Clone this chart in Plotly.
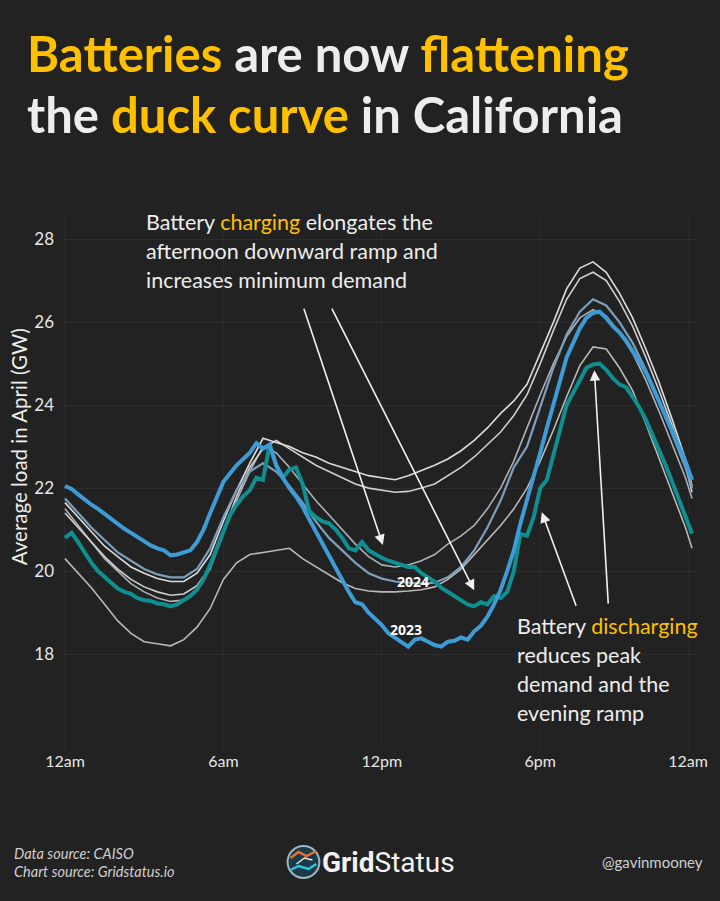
import plotly.graph_objects as go

# ---------------- data ----------------
hours15 = [i * 0.25 for i in range(96)]
hours30 = [i * 0.5 for i in range(48)] + [23.75]

load_2023 = [22.05, 21.98, 21.85, 21.72, 21.6, 21.5, 21.38, 21.25, 21.12, 21.02, 20.92, 20.82,
             20.72, 20.62, 20.55, 20.5, 20.38, 20.4, 20.45, 20.5, 20.7, 21.0, 21.4, 21.8,
             22.15, 22.35, 22.55, 22.7, 22.85, 23.08, 22.95, 23.05, 22.55, 22.25, 22.0, 21.8,
             21.55, 21.25, 20.95, 20.65, 20.35, 20.05, 19.75, 19.5, 19.25, 19.2, 19.0, 18.85,
             18.7, 18.5, 18.4, 18.3, 18.18, 18.35, 18.38, 18.3, 18.22, 18.18, 18.3, 18.32,
             18.4, 18.35, 18.55, 18.68, 18.9, 19.2, 19.55, 20.0, 20.5, 21.15, 21.7, 22.3,
             22.85, 23.45, 24.0, 24.6, 25.15, 25.5, 25.85, 26.1, 26.22, 26.25, 26.1, 25.9,
             25.75, 25.55, 25.3, 25.05, 24.8, 24.45, 24.1, 23.75, 23.4, 23.0, 22.65, 22.2]

load_2024 = [20.8, 20.92, 20.7, 20.45, 20.2, 20.0, 19.85, 19.72, 19.58, 19.5, 19.45, 19.35,
             19.3, 19.28, 19.22, 19.2, 19.15, 19.2, 19.3, 19.4, 19.55, 19.8, 20.15, 20.55,
             20.95, 21.35, 21.6, 21.8, 21.95, 22.25, 22.2, 23.05, 22.55, 22.25, 22.45, 22.5,
             22.1, 21.45, 21.3, 21.2, 21.15, 21.0, 20.8, 20.55, 20.5, 20.7, 20.5, 20.4,
             20.32, 20.25, 20.2, 20.15, 20.1, 20.1, 19.95, 19.85, 19.75, 19.6, 19.5, 19.38,
             19.3, 19.2, 19.15, 19.25, 19.2, 19.4, 19.35, 19.5, 20.0, 20.9, 20.85, 21.3,
             22.0, 22.2, 22.8, 23.45, 24.0, 24.3, 24.6, 24.9, 24.98, 25.0, 24.85, 24.65,
             24.5, 24.43, 24.2, 23.95, 23.65, 23.3, 22.95, 22.55, 22.15, 21.75, 21.35, 20.9]

load_2018 = [21.65, 21.3, 20.95, 20.6, 20.35, 20.1, 19.95, 19.82, 19.75, 19.75, 19.95, 20.4,
             21.2, 21.95, 22.6, 23.2, 23.1, 23.0, 22.85, 22.75, 22.6, 22.5, 22.4, 22.3,
             22.25, 22.2, 22.3, 22.42, 22.55, 22.7, 22.9, 23.15, 23.45, 23.8, 24.1, 24.5,
             25.25, 26.0, 26.8, 27.3, 27.45, 27.2, 26.7, 26.1, 25.35, 24.55, 23.65, 22.7, 22.05]

load_2019 = [21.4, 21.05, 20.7, 20.35, 20.05, 19.8, 19.62, 19.5, 19.42, 19.45, 19.65, 20.1,
             20.95, 21.8, 22.5, 22.95, 23.15, 22.95, 22.75, 22.55, 22.4, 22.25, 22.1, 22.0,
             21.95, 21.9, 21.92, 22.0, 22.1, 22.3, 22.5, 22.75, 23.05, 23.35, 23.75, 24.25,
             25.0, 25.8, 26.55, 27.05, 27.2, 27.0, 26.5, 25.9, 25.15, 24.35, 23.5, 22.55, 21.9]

load_2020 = [20.3, 19.95, 19.6, 19.2, 18.8, 18.5, 18.3, 18.25, 18.2, 18.35, 18.65, 19.1,
             19.8, 20.2, 20.4, 20.45, 20.5, 20.55, 20.3, 20.1, 19.9, 19.72, 19.58, 19.52,
             19.5, 19.5, 19.52, 19.55, 19.62, 19.8, 20.05, 20.4, 20.75, 21.1, 21.5, 22.0,
             22.65, 23.4, 24.2, 24.95, 25.4, 25.35, 24.9, 24.35, 23.55, 22.7, 21.9, 21.05, 20.55]

load_2021 = [21.5, 21.1, 20.7, 20.3, 20.0, 19.7, 19.5, 19.35, 19.27, 19.3, 19.55, 20.05,
             20.9, 21.7, 22.4, 23.0, 22.85, 22.5, 22.1, 21.7, 21.35, 21.0, 20.65, 20.35,
             20.15, 20.1, 20.15, 20.25, 20.4, 20.65, 20.85, 21.1, 21.5, 22.0, 22.65, 23.45,
             24.25, 25.0, 25.65, 26.1, 26.3, 26.15, 25.75, 25.25, 24.6, 23.85, 23.05, 22.25, 21.75]

load_2022 = [21.75, 21.4, 21.05, 20.75, 20.45, 20.25, 20.05, 19.92, 19.85, 19.85, 20.05, 20.55,
             21.3, 21.95, 22.4, 22.6, 22.4, 22.05, 21.65, 21.2, 20.8, 20.5, 20.2, 19.95,
             19.82, 19.75, 19.72, 19.7, 19.72, 19.85, 20.1, 20.5, 21.05, 21.7, 22.5, 23.0,
             23.95, 24.9, 25.7, 26.25, 26.55, 26.4, 26.0, 25.5, 24.85, 24.1, 23.3, 22.5, 22.0]

tick_vals = [0, 6, 12, 18, 23.6]
tick_text = ["12am", "6am", "12pm", "6pm", "12am"]
y_ticks = [18, 20, 22, 24, 26, 28]

# ---------------- styling ----------------
BG = "#222222"
GOLD = "#FFC000"
WHITE = "#EDEDED"
BLUE = "#3d9bd6"
TEAL = "#0f8f90"

W, H = 720, 901
L, R, T, B = 63, 700, 215, 750


def px(x):
    return (x - L) / (R - L)


def py(y):
    return (B - y) / (B - T)


fig = go.Figure()

gray_series = [
    (load_2020, "#b9b9b9", 1.6),
    (load_2021, "#a9b1ba", 1.6),
    (load_2019, "#cfcfcf", 1.6),
    (load_2018, "#dcdcdc", 1.6),
    (load_2022, "#7e9ebb", 2.2),
]
for vals, col, w in gray_series:
    fig.add_trace(go.Scatter(x=hours30, y=vals, mode="lines",
                             line=dict(color=col, width=w), hoverinfo="skip"))

fig.add_trace(go.Scatter(x=hours15, y=load_2024, mode="lines",
                         line=dict(color=TEAL, width=4), hoverinfo="skip"))
fig.add_trace(go.Scatter(x=hours15, y=load_2023, mode="lines",
                         line=dict(color=BLUE, width=4), hoverinfo="skip"))

ann = []
FONT = "Lato"

# Title
ann.append(dict(xref="paper", yref="paper", x=px(25), y=py(53), xanchor="left", yanchor="middle",
                showarrow=False,
                text=f"<b><span style='color:{GOLD}'>Batteries</span> are now <span style='color:{GOLD}'>flattening</span></b>",
                font=dict(family=FONT, size=49, color=WHITE)))
ann.append(dict(xref="paper", yref="paper", x=px(25), y=py(114), xanchor="left", yanchor="middle",
                showarrow=False,
                text=f"<b>the <span style='color:{GOLD}'>duck curve</span> in California</b>",
                font=dict(family=FONT, size=49, color=WHITE)))

# Charging note
charge_lines = [f"Battery <span style='color:{GOLD}'>charging</span> elongates the",
                "afternoon downward ramp and",
                "increases minimum demand"]
for i, t in enumerate(charge_lines):
    ann.append(dict(xref="paper", yref="paper", x=px(145), y=py(222 + 29 * i), xanchor="left",
                    yanchor="middle", showarrow=False, text=t,
                    font=dict(family=FONT, size=21.5, color=WHITE)))

# Discharging note
dis_lines = [f"Battery <span style='color:{GOLD}'>discharging</span>",
             "reduces peak", "demand and the", "evening ramp"]
for i, t in enumerate(dis_lines):
    ann.append(dict(xref="paper", yref="paper", x=px(518), y=py(626 + 29 * i), xanchor="left",
                    yanchor="middle", showarrow=False, text=t,
                    font=dict(family=FONT, size=21.5, color=WHITE)))

# Arrows (tail -> head) in data coords
arrows = [((9.03, 26.36), (12.04, 20.63)),
          ((10.08, 26.36), (15.5, 19.54)),
          ((19.38, 19.13), (18.06, 21.42)),
          ((20.58, 19.18), (20.05, 24.84))]
for (tx, ty), (hx, hy) in arrows:
    ann.append(dict(xref="x", yref="y", axref="x", ayref="y", x=hx, y=hy, ax=tx, ay=ty,
                    text="", showarrow=True, arrowhead=2, arrowsize=1.3, arrowwidth=1.6,
                    arrowcolor="#f0f0f0", standoff=0, startstandoff=0))

# Year labels
ann.append(dict(xref="x", yref="y", x=13.17, y=19.76, text="<b>2024</b>", showarrow=False,
                font=dict(family="Open Sans", size=14, color="#ffffff")))
ann.append(dict(xref="x", yref="y", x=12.9, y=18.6, text="<b>2023</b>", showarrow=False,
                font=dict(family="Open Sans", size=14, color="#ffffff")))

# Y axis title
ann.append(dict(xref="paper", yref="paper", x=px(19), y=py(447), textangle=-90,
                xanchor="center", yanchor="middle", showarrow=False,
                text="Average load in April (GW)",
                font=dict(family=FONT, size=20.5, color=WHITE)))

# Footer
ann.append(dict(xref="paper", yref="paper", x=px(12), y=py(853), xanchor="left", yanchor="middle",
                showarrow=False, text="<i>Data source: CAISO</i>",
                font=dict(family=FONT, size=14.5, color="#cfcfcf")))
ann.append(dict(xref="paper", yref="paper", x=px(12), y=py(871), xanchor="left", yanchor="middle",
                showarrow=False, text="<i>Chart source: Gridstatus.io</i>",
                font=dict(family=FONT, size=14.5, color="#cfcfcf")))
ann.append(dict(xref="paper", yref="paper", x=px(709), y=py(862), xanchor="right", yanchor="middle",
                showarrow=False, text="@gavinmooney",
                font=dict(family=FONT, size=15, color="#cfcfcf")))
ann.append(dict(xref="paper", yref="paper", x=px(322), y=py(862), xanchor="left", yanchor="middle",
                showarrow=False, text="<b>Grid</b>Status",
                font=dict(family="Roboto", size=28, color="#f2f2f2")))

# Logo shapes
shapes = []
cx, cy, r = 305, 862, 16
shapes.append(dict(type="circle", xref="paper", yref="paper",
                   x0=px(cx - r), x1=px(cx + r), y0=py(cy + r), y1=py(cy - r),
                   fillcolor="#1c3a48", line=dict(color="#9fb7c2", width=2)))


def pth(points):
    s = "M " + " L ".join(f"{px(a):.5f},{py(b):.5f}" for a, b in points)
    return s


shapes.append(dict(type="path", xref="paper", yref="paper",
                   path=pth([(292, 858), (300, 852), (308, 856), (318, 851)]),
                   line=dict(color="#e8732c", width=2.5)))
shapes.append(dict(type="path", xref="paper", yref="paper",
                   path=pth([(292, 870), (300, 866), (310, 869), (318, 864)]),
                   line=dict(color="#2fc6d8", width=2.5)))
shapes.append(dict(type="path", xref="paper", yref="paper",
                   path=pth([(298, 864), (306, 858), (314, 860)]),
                   line=dict(color="#e6e6e6", width=1.5)))

fig.update_layout(
    width=W, height=H,
    paper_bgcolor=BG, plot_bgcolor=BG,
    margin=dict(l=L, r=W - R, t=T, b=H - B, pad=0),
    showlegend=False,
    annotations=ann,
    shapes=shapes,
    xaxis=dict(range=[-0.075, 23.9], tickvals=tick_vals, ticktext=tick_text,
               showgrid=True, gridcolor="rgba(255,255,255,0.035)", zeroline=False,
               showline=False, ticks="",
               tickfont=dict(family=FONT, size=16, color="#e6e6e6")),
    yaxis=dict(range=[15.69, 28.58], tickvals=y_ticks,
               showgrid=True, gridcolor="rgba(255,255,255,0.05)", zeroline=False,
               showline=False, ticks="", ticklabelstandoff=8,
               tickfont=dict(family=FONT, size=17, color="#e6e6e6")),
)

fig.write_html("out.html")
